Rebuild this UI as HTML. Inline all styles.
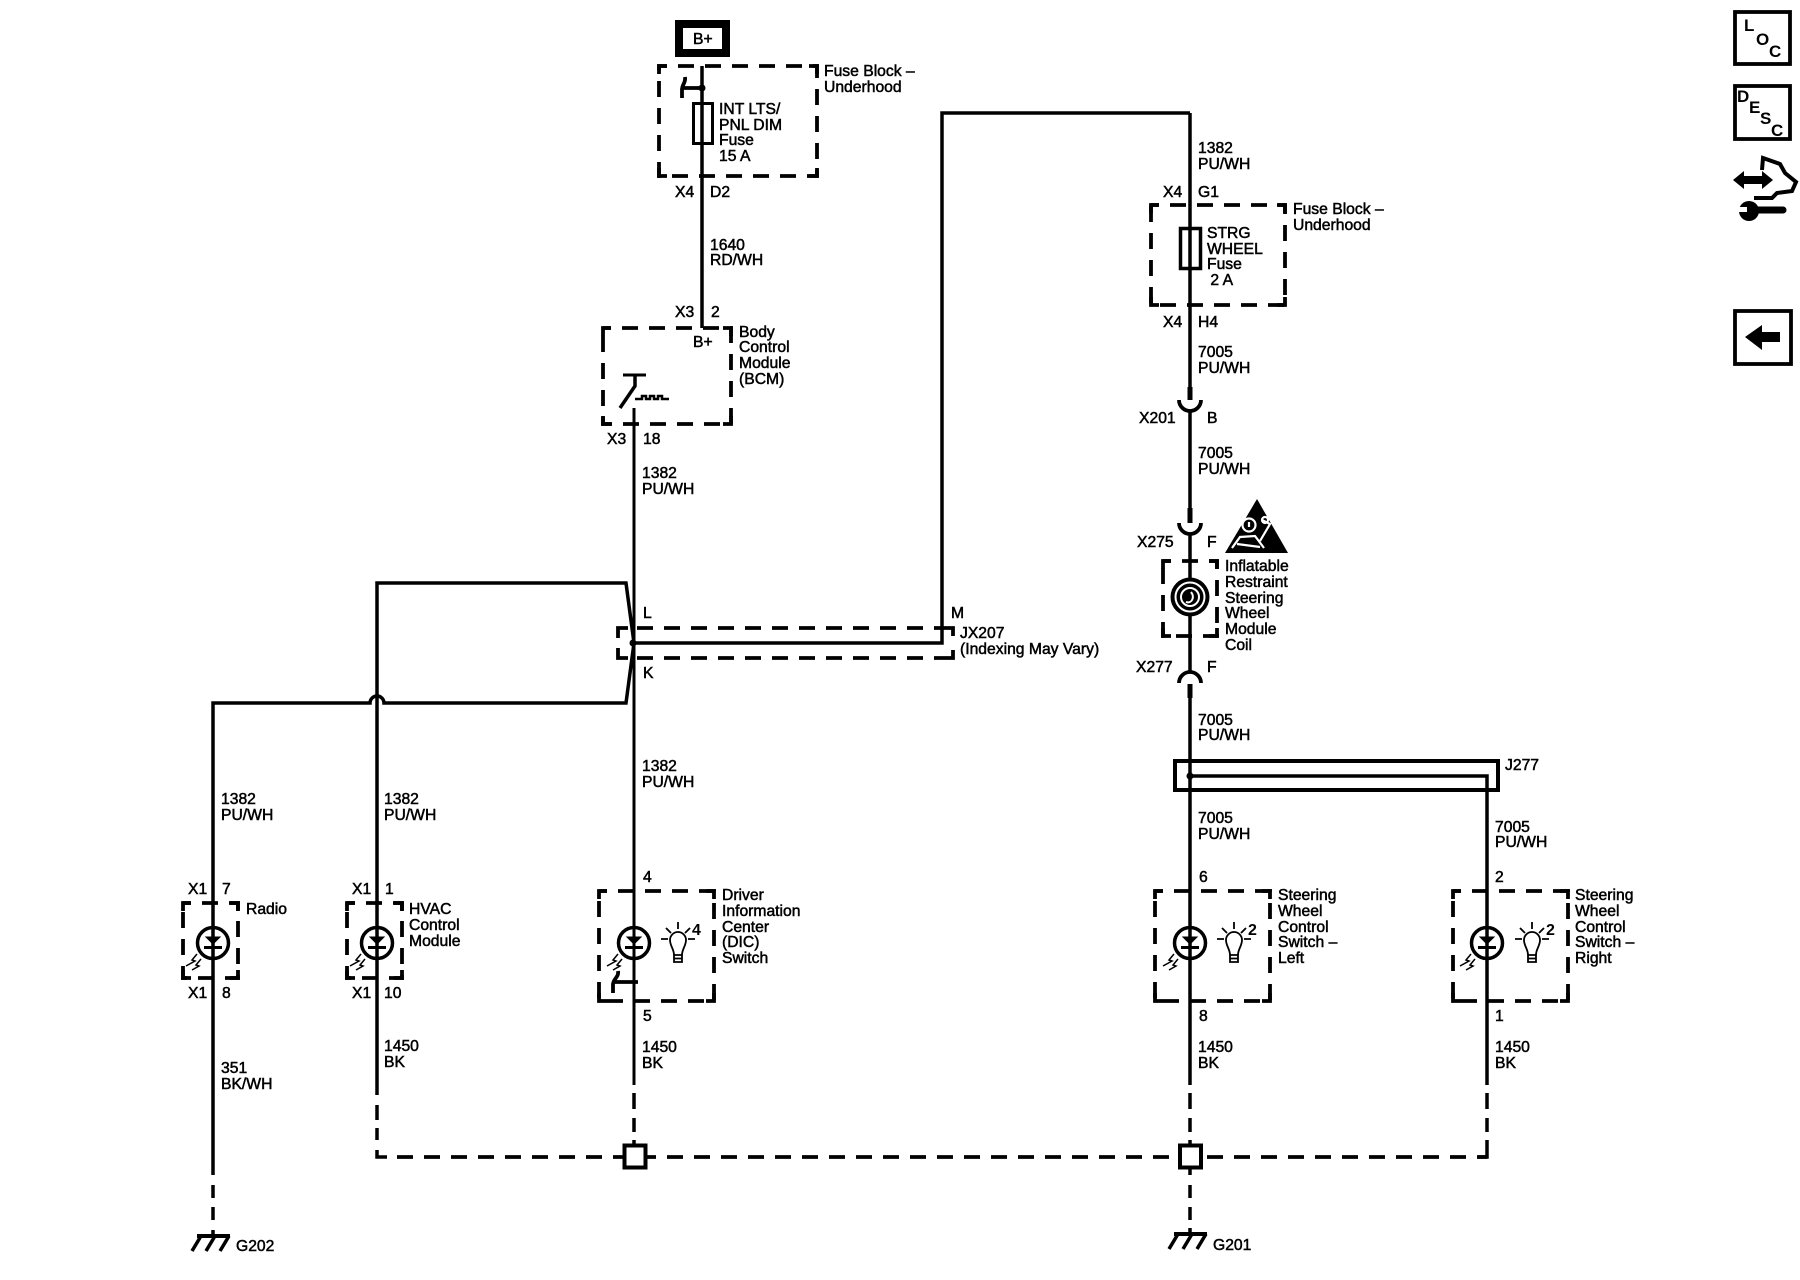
<!DOCTYPE html>
<html lang="en"><head><meta charset="utf-8"><title>Wiring diagram</title>
<style>
html,body{margin:0;padding:0;background:#fff}
svg{display:block}
text{font-family:"Liberation Sans",sans-serif;font-size:15.7px;fill:#000;stroke:#000;stroke-width:.5}
.w{fill:none;stroke:#000;stroke-width:3.5}
.d{fill:none;stroke:#000;stroke-width:3.8;stroke-dasharray:16 11}
.c{fill:none;stroke:#000;stroke-width:3.8}
.b{font-weight:bold;font-size:17px;stroke-width:0}
.n{font-weight:bold;font-size:16px;stroke-width:0}
</style></head><body>
<svg xmlns="http://www.w3.org/2000/svg" width="1800" height="1280" viewBox="0 0 1800 1280">
<defs>
<g id="led">
<circle r="15.5" fill="none" stroke="#000" stroke-width="3.5"/>
<path d="M-7-6H7L0 1Z" fill="#000" stroke="#000" stroke-width="1"/>
<path d="M-9 4.500H9" stroke="#000" stroke-width="3"/>
<path d="M-16 11l-5 6 3 1-9 5M-12 16l-5 6 3 1-7 4" fill="none" stroke="#000" stroke-width="1.500"/>
</g>
<g id="bulb" fill="none" stroke="#000" stroke-width="1.800">
<path d="M-4 15C-4 9-8 6-8 0A8 8 0 0 1 8 0C8 6 4 9 4 15"/>
<path d="M-4 15H4V22H-4ZM-4 18.500H4"/>
<path d="M0-18V-11M-12-12-7-7M12-12 7-7M-17-1H-10M10-1H17"/>
</g>
<g id="gnd" fill="none" stroke="#000">
<path d="M6 0H39" stroke-width="4"/>
<path d="M10 0 1 15M24 0 15 15M38 0 29 15" stroke-width="3.5"/>
</g>
</defs>

<!-- right icons -->
<rect x="1735" y="12" width="55" height="52" class="c"/>
<text class="b" x="1744" y="31">L</text><text class="b" x="1756" y="45">O</text><text class="b" x="1769" y="57">C</text>
<rect x="1735" y="86" width="55" height="53" class="c"/>
<text class="b" x="1737" y="102">D</text><text class="b" x="1749" y="113">E</text><text class="b" x="1760" y="124">S</text><text class="b" x="1771" y="136">C</text>
<path d="M1733 180 1744 171V176H1762V171L1773 180 1762 189V184H1744V189Z"/>
<path d="M1762 170 1763 158 1780 164 1785 173 1796 182 1792 191 1777 193 1772 198 1754 198" fill="none" stroke="#000" stroke-width="4"/>
<path d="M1750 210H1783" stroke="#000" stroke-width="7" stroke-linecap="round"/>
<circle cx="1749" cy="211" r="10"/><path d="M1737 207H1747V212H1737Z" fill="#fff"/>
<rect x="1735" y="311" width="56" height="53" class="c"/>
<path d="M1745 337 1762 325V332H1780V342H1762V350Z"/>

<!-- B+ & fuse block -->
<rect x="679" y="24" width="47" height="29" fill="#fff" stroke="#000" stroke-width="8"/>
<text x="693" y="44">B+</text>
<rect x="659" y="66" width="158" height="110" class="d" stroke-dashoffset="8"/>
<path class="c" d="M659 74V66H667M809 66H817V74M817 168V176H809M667 176H659V168"/>
<path class="w" d="M702 66V328"/>
<circle cx="702" cy="88" r="3.500"/>
<path d="M702 88H682" class="c"/>
<path d="M685 77C686 83 682 84 682 90V98" class="c"/>
<rect x="693.500" y="103.500" width="19" height="40" fill="none" stroke="#000" stroke-width="3"/>
<text x="824" y="76">Fuse Block –</text><text x="824" y="92">Underhood</text>
<text x="719" y="114">INT LTS/</text><text x="719" y="130">PNL DIM</text><text x="719" y="145">Fuse</text><text x="719" y="161">15 A</text>
<text x="675" y="197">X4</text><text x="710" y="197">D2</text>
<text x="710" y="250">1640</text><text x="710" y="265">RD/WH</text>
<text x="675" y="317">X3</text><text x="711" y="317">2</text>

<!-- BCM -->
<rect x="603" y="328" width="128" height="96" class="d" stroke-dashoffset="8"/>
<path class="c" d="M603 336V328H611M723 328H731V336M731 416V424H723M611 424H603V416"/>
<text x="693" y="347">B+</text>
<text x="739" y="337">Body</text><text x="739" y="352">Control</text><text x="739" y="368">Module</text><text x="739" y="384">(BCM)</text>
<path d="M623 375H646" stroke="#000" stroke-width="3"/>
<path d="M635 375V386L620 408" class="w"/>
<path d="M635 399H642V396H646V399H650V396H654V399H658V396H662V399H669" fill="none" stroke="#000" stroke-width="2.500"/>
<path d="M634 408V1085" stroke="#000" stroke-width="3" fill="none"/>
<text x="607" y="444">X3</text><text x="643" y="444">18</text>
<text x="642" y="478">1382</text><text x="642" y="494">PU/WH</text>

<!-- splice JX207 -->
<path class="d" d="M637 628H945M637 658H945"/>
<path class="c" d="M628 628H618V638M618 648V658H628M945 628H953V636M953 650V658H945"/>
<path class="w" d="M634 643H942V113H1190"/>
<path class="w" d="M377 703V583H626L634 643 626 703H384A7 7 0 0 0 370 703H213V1175"/>
<circle cx="633" cy="643" r="3.500"/>
<text x="643" y="618">L</text><text x="951" y="618">M</text><text x="643" y="678">K</text>
<text x="960" y="638">JX207</text><text x="960" y="654">(Indexing May Vary)</text>
<text x="642" y="771">1382</text><text x="642" y="787">PU/WH</text>

<!-- right column upper -->
<path class="w" d="M1190 113V387"/>
<text x="1198" y="153">1382</text><text x="1198" y="169">PU/WH</text>
<text x="1163" y="197">X4</text><text x="1198" y="197">G1</text>
<rect x="1151" y="205" width="134" height="100" class="d" stroke-dashoffset="8"/>
<path class="c" d="M1151 213V205H1159M1277 205H1285V213M1285 297V305H1277M1159 305H1151V297"/>
<rect x="1180.500" y="228.500" width="20" height="40" fill="none" stroke="#000" stroke-width="3.500"/>
<text x="1207" y="238">STRG</text><text x="1207" y="254">WHEEL</text><text x="1207" y="269">Fuse</text><text x="1206" y="285">&#160;2 A</text>
<text x="1293" y="214">Fuse Block –</text><text x="1293" y="230">Underhood</text>
<text x="1163" y="327">X4</text><text x="1198" y="327">H4</text>
<text x="1198" y="357">7005</text><text x="1198" y="373">PU/WH</text>
<path d="M1190 387V400" stroke="#000" stroke-width="5"/>
<path class="c" d="M1179 400A11 11 0 0 0 1201 400"/>
<path class="w" d="M1190 411V508"/>
<text x="1139" y="423">X201</text><text x="1207" y="423">B</text>
<text x="1198" y="458">7005</text><text x="1198" y="474">PU/WH</text>
<path d="M1190 508V523" stroke="#000" stroke-width="5"/>
<path class="c" d="M1179 523A11 11 0 0 0 1201 523"/>
<path class="w" d="M1190 534V672"/>
<text x="1137" y="547">X275</text><text x="1207" y="547">F</text>

<!-- airbag triangle -->
<path d="M1257 499 1288 553H1225Z"/>
<g fill="none" stroke="#fff" stroke-width="2.200">
<circle cx="1249" cy="525" r="6.500"/>
<path d="M1232 548 1240 537 1255 536 1264 548M1262 520 1270 524 1260 541M1237 544 1260 547M1249 522V527"/>
<circle cx="1265" cy="520" r="3"/>
</g>

<!-- coil -->
<rect x="1163" y="561" width="54" height="75" class="d" stroke-dashoffset="8"/>
<path class="c" d="M1163 569V561H1171M1209 561H1217V569M1217 628V636H1209M1171 636H1163V628"/>
<circle cx="1190" cy="597" r="19.500"/>
<circle cx="1190" cy="597" r="14.500" fill="none" stroke="#fff" stroke-width="2"/>
<circle cx="1190" cy="597" r="9" fill="none" stroke="#fff" stroke-width="2"/>
<path d="M1186 602C1192 604 1195 597 1191 592" fill="none" stroke="#fff" stroke-width="2"/>
<text x="1225" y="571">Inflatable</text><text x="1225" y="587">Restraint</text><text x="1225" y="603">Steering</text><text x="1225" y="618">Wheel</text><text x="1225" y="634">Module</text><text x="1225" y="650">Coil</text>
<text x="1136" y="672">X277</text><text x="1207" y="672">F</text>
<path class="c" d="M1179 683A11 11 0 0 1 1201 683"/>
<path d="M1190 684V698" stroke="#000" stroke-width="5"/>
<path class="w" d="M1190 698V1085"/>
<text x="1198" y="725">7005</text><text x="1198" y="740">PU/WH</text>

<!-- J277 -->
<path d="M1175 790V761H1498V790Z" fill="none" stroke="#000" stroke-width="4"/>
<path class="w" d="M1190 776H1487V1085"/>
<circle cx="1190" cy="776" r="3.500"/>
<text x="1505" y="770">J277</text>
<text x="1198" y="823">7005</text><text x="1198" y="839">PU/WH</text>
<text x="1495" y="832">7005</text><text x="1495" y="847">PU/WH</text>

<!-- Radio -->
<text x="221" y="804">1382</text><text x="221" y="820">PU/WH</text>
<text x="188" y="894">X1</text><text x="222" y="894">7</text>
<rect x="183" y="903" width="55" height="75" class="d" stroke-dashoffset="8"/>
<path class="c" d="M183 911V903H191M230 903H238V911M238 970V978H230M191 978H183V970"/>
<use href="#led" x="213" y="943"/>
<text x="246" y="914">Radio</text>
<text x="188" y="998">X1</text><text x="222" y="998">8</text>
<text x="221" y="1073">351</text><text x="221" y="1089">BK/WH</text>
<path class="w" d="M213 1185V1198M213 1207V1220M213 1230V1236"/>
<use href="#gnd" x="191" y="1236"/>
<text x="236" y="1251">G202</text>

<!-- HVAC -->
<text x="384" y="804">1382</text><text x="384" y="820">PU/WH</text>
<text x="352" y="894">X1</text><text x="385" y="894">1</text>
<rect x="347" y="903" width="55" height="75" class="d" stroke-dashoffset="8"/>
<path class="c" d="M347 911V903H355M394 903H402V911M402 970V978H394M355 978H347V970"/>
<path class="w" d="M377 703V1095"/>
<use href="#led" x="377" y="943"/>
<text x="409" y="914">HVAC</text><text x="409" y="930">Control</text><text x="409" y="946">Module</text>
<text x="352" y="998">X1</text><text x="384" y="998">10</text>
<text x="384" y="1051">1450</text><text x="384" y="1067">BK</text>

<!-- DIC -->
<text x="643" y="882">4</text>
<rect x="599" y="891" width="115" height="110" class="d" stroke-dashoffset="8"/>
<path class="c" d="M599 899V891H607M706 891H714V899M714 993V1001H706M607 1001H599V993"/>
<use href="#led" x="634" y="943"/>
<use href="#bulb" x="678" y="940"/>
<text class="n" x="692" y="935">4</text>
<path class="c" d="M613 982H638M618 971C619 977 614 978 613 984V993"/>
<text x="722" y="900">Driver</text><text x="722" y="916">Information</text><text x="722" y="932">Center</text><text x="722" y="947">(DIC)</text><text x="722" y="963">Switch</text>
<text x="643" y="1021">5</text>
<text x="642" y="1052">1450</text><text x="642" y="1068">BK</text>

<!-- SW Left -->
<text x="1199" y="882">6</text>
<rect x="1155" y="891" width="115" height="110" class="d" stroke-dashoffset="8"/>
<path class="c" d="M1155 899V891H1163M1262 891H1270V899M1270 993V1001H1262M1163 1001H1155V993"/>
<use href="#led" x="1190" y="943"/>
<use href="#bulb" x="1234" y="940"/>
<text class="n" x="1248" y="935">2</text>
<text x="1278" y="900">Steering</text><text x="1278" y="916">Wheel</text><text x="1278" y="932">Control</text><text x="1278" y="947">Switch –</text><text x="1278" y="963">Left</text>
<text x="1199" y="1021">8</text>
<text x="1198" y="1052">1450</text><text x="1198" y="1068">BK</text>

<!-- SW Right -->
<text x="1495" y="882">2</text>
<rect x="1453" y="891" width="115" height="110" class="d" stroke-dashoffset="8"/>
<path class="c" d="M1453 899V891H1461M1560 891H1568V899M1568 993V1001H1560M1461 1001H1453V993"/>
<use href="#led" x="1487" y="943"/>
<use href="#bulb" x="1532" y="940"/>
<text class="n" x="1546" y="935">2</text>
<text x="1575" y="900">Steering</text><text x="1575" y="916">Wheel</text><text x="1575" y="932">Control</text><text x="1575" y="947">Switch –</text><text x="1575" y="963">Right</text>
<text x="1495" y="1021">1</text>
<text x="1495" y="1052">1450</text><text x="1495" y="1068">BK</text>

<!-- ground bus -->
<path class="w" d="M377 1105V1120M377 1128V1140M377 1150V1157H387"/>
<path class="d" d="M397 1157H1487"/>
<path class="w" d="M634 1093V1109M634 1118V1132M634 1140V1144"/>
<path class="w" d="M1190 1093V1109M1190 1118V1132M1190 1140V1144M1190 1169V1175M1190 1185V1198M1190 1207V1220M1190 1228V1234"/>
<path class="w" d="M1487 1093V1109M1487 1118V1132M1487 1140V1157H1478"/>
<rect x="624.500" y="1145.500" width="21" height="22" fill="#fff" stroke="#000" stroke-width="4"/>
<rect x="1180" y="1145.500" width="21" height="22" fill="#fff" stroke="#000" stroke-width="4"/>
<use href="#gnd" x="1168" y="1234"/>
<text x="1213" y="1250">G201</text>
</svg>
</body></html>
